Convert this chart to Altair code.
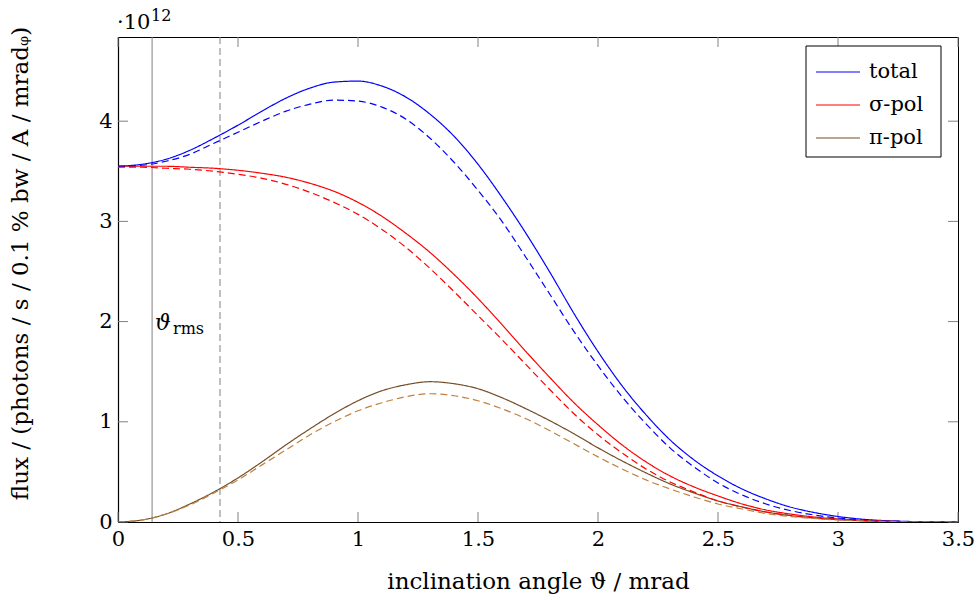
import altair as alt
import pandas as pd

# inclination angle grid (mrad)
THETA = [0.0, 0.1, 0.2, 0.3, 0.4, 0.5, 0.6, 0.7, 0.8, 0.9,
         1.0, 1.1, 1.2, 1.3, 1.4, 1.5, 1.6, 1.7, 1.8, 1.9,
         2.0, 2.1, 2.2, 2.3, 2.4, 2.5, 2.6, 2.7, 2.8, 2.9,
         3.0, 3.1, 3.2, 3.3, 3.4, 3.5]

# flux in units of 1e12
TOTAL = [3.55, 3.57, 3.62, 3.71, 3.83, 3.96, 4.10, 4.23, 4.33, 4.39,
         4.40, 4.35, 4.24, 4.07, 3.85, 3.57, 3.24, 2.88, 2.49, 2.08,
         1.70, 1.36, 1.07, 0.82, 0.62, 0.46, 0.33, 0.23, 0.15, 0.095,
         0.055, 0.028, 0.013, 0.005, 0.002, 0.001]
TOTAL_D = [3.55, 3.56, 3.60, 3.67, 3.78, 3.89, 4.00, 4.10, 4.17, 4.21,
           4.20, 4.14, 4.02, 3.83, 3.59, 3.31, 3.00, 2.64, 2.27, 1.90,
           1.56, 1.25, 0.98, 0.74, 0.55, 0.39, 0.27, 0.18, 0.115, 0.07,
           0.04, 0.02, 0.01, 0.004, 0.002, 0.001]
SIGMA = [3.55, 3.55, 3.55, 3.54, 3.53, 3.51, 3.48, 3.44, 3.38, 3.30,
         3.19, 3.05, 2.88, 2.69, 2.47, 2.23, 1.97, 1.70, 1.44, 1.19,
         0.97, 0.77, 0.60, 0.46, 0.35, 0.26, 0.18, 0.12, 0.08, 0.05,
         0.03, 0.016, 0.008, 0.004, 0.002, 0.001]
SIGMA_D = [3.54, 3.54, 3.53, 3.52, 3.50, 3.47, 3.43, 3.37, 3.29, 3.19,
           3.07, 2.92, 2.74, 2.53, 2.30, 2.06, 1.82, 1.57, 1.32, 1.08,
           0.87, 0.69, 0.53, 0.40, 0.30, 0.21, 0.15, 0.10, 0.065, 0.04,
           0.025, 0.014, 0.007, 0.003, 0.002, 0.001]
PI = [0.0, 0.02, 0.08, 0.18, 0.30, 0.44, 0.60, 0.77, 0.93, 1.08,
      1.21, 1.31, 1.37, 1.40, 1.38, 1.33, 1.24, 1.13, 1.01, 0.88,
      0.74, 0.61, 0.49, 0.38, 0.29, 0.21, 0.15, 0.10, 0.065, 0.04,
      0.025, 0.013, 0.006, 0.003, 0.001, 0.0]
PI_D = [0.0, 0.02, 0.08, 0.17, 0.29, 0.42, 0.57, 0.72, 0.87, 1.00,
        1.11, 1.19, 1.25, 1.28, 1.26, 1.21, 1.13, 1.03, 0.91, 0.78,
        0.65, 0.53, 0.42, 0.33, 0.25, 0.18, 0.13, 0.085, 0.055, 0.035,
        0.02, 0.011, 0.005, 0.002, 0.001, 0.0]

SERIES_KEYS = ["total", "σ-pol", "π-pol", "total ", "σ-pol ", "π-pol "]
SERIES_COLORS = ["#0000ff", "#ff0000", "#734d26", "#0000ff", "#ff0000", "#bf8040"]
SERIES_STYLE = ["solid", "solid", "solid", "dashed", "dashed", "dashed"]
SERIES_VALUES = [TOTAL, SIGMA, PI, TOTAL_D, SIGMA_D, PI_D]

# marker angles (mrad)
MARKER_X = [0.142, 0.425]
MARKER_STYLE = ["solid", "dashed"]

X_TICKS = [0, 0.5, 1, 1.5, 2, 2.5, 3, 3.5]
Y_TICKS = [0, 1, 2, 3, 4]

W, H = 840, 485
FONT = "DejaVu Serif"
FS = 21
TFS = 23

rows = []
for key, style, vals in zip(SERIES_KEYS, SERIES_STYLE, SERIES_VALUES):
    for t, v in zip(THETA, vals):
        rows.append({"theta": t, "flux": v, "series": key, "style": style})
df = pd.DataFrame(rows)

xscale = alt.Scale(domain=[0, 3.5], nice=False, zero=False)
yscale = alt.Scale(domain=[0, 4.84], nice=False, zero=False)
dash_scale = alt.Scale(domain=["solid", "dashed"], range=[[1, 0], [7, 4]])

lines = alt.Chart(df).mark_line(strokeWidth=1.2, interpolate="monotone", clip=True).encode(
    x=alt.X("theta:Q", scale=xscale,
            axis=alt.Axis(title="inclination angle ϑ / mrad", values=X_TICKS, format="~g",
                          ticks=False, domain=True, domainColor="black", domainWidth=1.2,
                          labelPadding=6, titlePadding=21, labelFlush=False, labelOverlap=False,
                          grid=False)),
    y=alt.Y("flux:Q", scale=yscale,
            axis=alt.Axis(title="flux / (photons / s / 0.1 % bw / A / mradᵩ)", values=Y_TICKS, format="d",
                          ticks=False, domain=True, domainColor="black", domainWidth=1.2,
                          labelPadding=6, titlePadding=66, titleY=226,
                          labelFlush=False, labelOverlap=False, grid=False)),
    color=alt.Color("series:N",
                    scale=alt.Scale(domain=SERIES_KEYS, range=SERIES_COLORS),
                    legend=alt.Legend(values=SERIES_KEYS[:3], title=None, orient="none",
                                      legendX=688, legendY=7,
                                      symbolType="stroke", symbolSize=1936, symbolStrokeWidth=1.2,
                                      symbolOffset=4,
                                      labelFont=FONT, labelFontSize=FS, labelColor="black",
                                      padding=5, rowPadding=0, labelOffset=8)),
    strokeDash=alt.StrokeDash("style:N", scale=dash_scale, legend=None),
    detail="series:N",
)

# legend frame (white box with black border behind the legend entries)
legend_box = alt.Chart(pd.DataFrame({"a": [0]})).mark_rect(
    fill="white", stroke="black", strokeWidth=1).encode(
    x=alt.value(688), x2=alt.value(823), y=alt.value(9), y2=alt.value(120))

mk_df = pd.DataFrame({"theta": MARKER_X, "style": MARKER_STYLE})
markers = alt.Chart(mk_df).mark_rule(color="#808080", strokeWidth=1).encode(
    x=alt.X("theta:Q", scale=xscale),
    y=alt.value(0), y2=alt.value(H),
    strokeDash=alt.StrokeDash("style:N", scale=dash_scale, legend=None),
)

xt = pd.DataFrame({"t": X_TICKS})
yt = pd.DataFrame({"t": Y_TICKS})
TK = 10
tick_col = "#808080"
xt_bottom = alt.Chart(xt).mark_rule(color=tick_col).encode(
    x=alt.X("t:Q", scale=xscale), y=alt.value(H), y2=alt.value(H - TK))
xt_top = alt.Chart(xt).mark_rule(color=tick_col).encode(
    x=alt.X("t:Q", scale=xscale), y=alt.value(0), y2=alt.value(TK))
yt_left = alt.Chart(yt).mark_rule(color=tick_col).encode(
    y=alt.Y("t:Q", scale=yscale), x=alt.value(0), x2=alt.value(TK))
yt_right = alt.Chart(yt).mark_rule(color=tick_col).encode(
    y=alt.Y("t:Q", scale=yscale), x=alt.value(W), x2=alt.value(W - TK))

lbl = pd.DataFrame({"a": [0]})
exp_main = alt.Chart(lbl).mark_text(text="·10", font=FONT, fontSize=FS, align="left",
                                    baseline="alphabetic", color="black").encode(
    x=alt.value(-1), y=alt.value(-8))
exp_sup = alt.Chart(lbl).mark_text(text="12", font=FONT, fontSize=16, align="left",
                                   baseline="alphabetic", color="black").encode(
    x=alt.value(33), y=alt.value(-16))
th_main = alt.Chart(lbl).mark_text(text="ϑ", font=FONT, fontSize=22, fontStyle="italic", align="left",
                                   baseline="alphabetic", color="black").encode(
    x=alt.value(37), y=alt.value(293))
th_sub = alt.Chart(lbl).mark_text(text="rms", font=FONT, fontSize=16, align="left",
                                  baseline="alphabetic", color="black").encode(
    x=alt.value(55), y=alt.value(297))

chart = alt.layer(
    markers, xt_bottom, xt_top, yt_left, yt_right, lines, legend_box,
    exp_main, exp_sup, th_main, th_sub
).resolve_scale(strokeDash="independent").properties(
    width=W, height=H,
    autosize=alt.AutoSizeParams(type="none"),
    padding={"left": 118, "top": 37, "right": 19, "bottom": 78},
    background="white",
).configure_view(
    stroke="black", strokeWidth=1
).configure_axis(
    labelFont=FONT, labelFontSize=FS, labelColor="black",
    titleFont=FONT, titleFontSize=TFS, titleColor="black", titleFontWeight="normal"
)

chart.save("out.html", embed_options={"renderer": "svg", "actions": False})
